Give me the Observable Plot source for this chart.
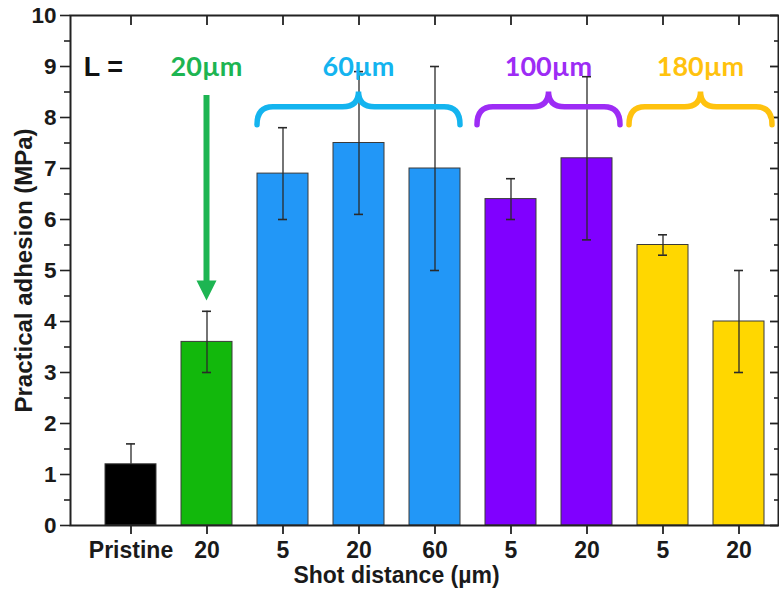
<!DOCTYPE html>
<html>
<head>
<meta charset="utf-8">
<script src="https://cdn.jsdelivr.net/npm/d3@7"></script>
<script src="https://cdn.jsdelivr.net/npm/@observablehq/plot@0.6"></script>
<style>
  html, body { margin: 0; padding: 0; background: #fff; }
  #chart { width: 779px; height: 597px; }
</style>
</head>
<body>
<div id="chart"></div>
<script>
// ---- data ----
const ids        = ["p", "a20", "b5", "b20", "b60", "c5", "c20", "d5", "d20"];
const tickLabels = ["Pristine", "20", "5", "20", "60", "5", "20", "5", "20"];
const groups     = ["Pristine", "20µm", "60µm", "60µm", "60µm", "100µm", "100µm", "180µm", "180µm"];
const adhesion   = [1.2, 3.6, 6.9, 7.5, 7.0, 6.4, 7.2, 5.5, 4.0];
const errLow     = [null, 3.0, 6.0, 6.1, 5.0, 6.0, 5.6, 5.3, 3.0];
const errHigh    = [1.6, 4.2, 7.8, 8.9, 9.0, 6.8, 8.8, 5.7, 5.0];
const yTicks     = [0, 1, 2, 3, 4, 5, 6, 7, 8, 9, 10];
const yMinor     = [0.5, 1.5, 2.5, 3.5, 4.5, 5.5, 6.5, 7.5, 8.5, 9.5];
const leadLabel  = "L =";

const data = ids.map((id, i) => ({
  id, label: tickLabels[i], group: groups[i],
  v: adhesion[i], lo: errLow[i] ?? adhesion[i], hi: errHigh[i]
}));
const lowData = data.filter((d, i) => errLow[i] != null);
const labelOf = new Map(ids.map((id, i) => [id, tickLabels[i]]));

const groupNames = ["Pristine", "20µm", "60µm", "100µm", "180µm"];
const barColors  = ["#000000", "#12b80c", "#2297f7", "#8000ff", "#ffd700"];
const annColors  = {"20µm": "#1db552", "60µm": "#14b4ef", "100µm": "#9d2cf5", "180µm": "#ffc20e"};

// annotation layer (group labels, braces, arrow) drawn through the plot's scales
function annotations(index, scales) {
  const {x, y} = scales;
  const bw = typeof x.bandwidth === "function" ? x.bandwidth() : x.bandwidth;
  const g = d3.create("svg:g");
  const center = id => x(id) + bw / 2;

  // "L ="
  g.append("text")
    .attr("x", center(ids[0]) - 27).attr("y", y(9)).attr("dy", "0.36em")
    .attr("text-anchor", "middle")
    .attr("font-family", "Liberation Sans, Arial, sans-serif")
    .attr("font-weight", "bold").attr("font-size", 27).attr("fill", "#111")
    .text(leadLabel);

  const annGroups = ["20µm", "60µm", "100µm", "180µm"];
  for (const gName of annGroups) {
    const members = data.filter(d => d.group === gName);
    const x0 = center(members[0].id), x1 = center(members[members.length - 1].id);
    const xm = (x0 + x1) / 2;
    const col = annColors[gName];
    g.append("text")
      .attr("x", xm).attr("y", y(9)).attr("dy", "0.36em")
      .attr("text-anchor", "middle")
      .attr("font-family", "Lato, 'Open Sans', sans-serif")
      .attr("font-weight", "bold").attr("font-size", 27).attr("fill", col)
      .text(gName);
    if (members.length === 1) {
      const yTop = y(8.43), yTip = y(members[0].hi + 0.2);
      const headLen = 20, headW = 10;
      g.append("line")
        .attr("x1", xm).attr("x2", xm).attr("y1", yTop).attr("y2", yTip - headLen + 2)
        .attr("stroke", col).attr("stroke-width", 6);
      g.append("path")
        .attr("d", `M${xm - headW},${yTip - headLen}L${xm + headW},${yTip - headLen}L${xm},${yTip}Z`)
        .attr("fill", col);
    } else {
      const extra = gName === "60µm" ? 0 : 8;
      const left = x0 - bw / 2 - extra, right = x1 + bw / 2 + extra;
      const ye = y(7.85), yb = y(8.2), yt = y(8.5);
      const r = 16;
      const d = `M${left},${ye}Q${left},${yb} ${left + r},${yb}L${xm - r},${yb}Q${xm},${yb} ${xm},${yt}` +
                `Q${xm},${yb} ${xm + r},${yb}L${right - r},${yb}Q${right},${yb} ${right},${ye}`;
      g.append("path").attr("d", d).attr("fill", "none")
        .attr("stroke", col).attr("stroke-width", 5.5).attr("stroke-linecap", "round");
    }
  }
  return g.node();
}

const W = 779, H = 597;
const mL = 70, mR = 1, mT = 15, mB = 72;

const chart = Plot.plot({
  width: W, height: H,
  marginLeft: mL, marginRight: mR, marginTop: mT, marginBottom: mB,
  style: {fontFamily: "Liberation Sans, Arial, sans-serif", fontWeight: "bold", color: "#1a1a1a", background: "#fff"},
  x: {type: "band", domain: ids, paddingInner: 0.325, paddingOuter: 0.26, align: 0.715, label: null, axis: null},
  y: {domain: [0, 10], label: null, axis: null},
  color: {domain: groupNames, range: barColors},
  marks: [
    Plot.barY(data, {x: "id", y: "v", fill: "group", stroke: "#3a3a3a", strokeWidth: 1}),
    Plot.ruleX(data, {x: "id", y1: "lo", y2: "hi", stroke: "#2a2a2a", strokeWidth: 1.3}),
    Plot.tickY(data, {x: "id", y: "hi", stroke: "#2a2a2a", strokeWidth: 1.6, insetLeft: 21, insetRight: 21}),
    Plot.tickY(lowData, {x: "id", y: "lo", stroke: "#2a2a2a", strokeWidth: 1.6, insetLeft: 21, insetRight: 21}),
    // left axis
    Plot.axisY(yTicks, {tickSize: 10, tickPadding: 4, tickFormat: d3.format("d"), fontSize: 22.5, fontWeight: "bold",
                        stroke: "#222", strokeWidth: 1.6, label: null}),
    Plot.axisY(yMinor, {tickSize: 6, tickFormat: () => "", stroke: "#222", strokeWidth: 1.6, label: null}),
    // right inner ticks
    Plot.tickY(yTicks, {y: d => d, insetLeft: W - mL - mR - 8, stroke: "#222", strokeWidth: 1.8}),
    Plot.tickY(yMinor, {y: d => d, insetLeft: W - mL - mR - 4, stroke: "#222", strokeWidth: 1.6}),
    // top inner ticks
    Plot.tickX(ids, {x: d => d, insetBottom: H - mT - mB - 10, stroke: "#222", strokeWidth: 1.8}),
    // bottom axis
    Plot.axisX({anchor: "bottom", tickSize: 9, tickPadding: 7, tickFormat: id => labelOf.get(id),
                fontSize: 23, fontWeight: "bold", stroke: "#222", strokeWidth: 1.8, label: null}),
    Plot.frame({stroke: "#222", strokeWidth: 2}),
    // axis titles
    Plot.text(["Practical adhesion (MPa)"], {frameAnchor: "left", textAnchor: "middle", rotate: -90, dx: -46,
              fontSize: 24, fontWeight: "bold", fill: "#1a1a1a"}),
    Plot.text(["Shot distance (µm)"], {frameAnchor: "bottom", dy: 57, dx: -28,
              fontSize: 23, fontWeight: "bold", fill: "#1a1a1a"}),
    annotations
  ]
});
document.getElementById("chart").appendChild(chart);
</script>
</body>
</html>
